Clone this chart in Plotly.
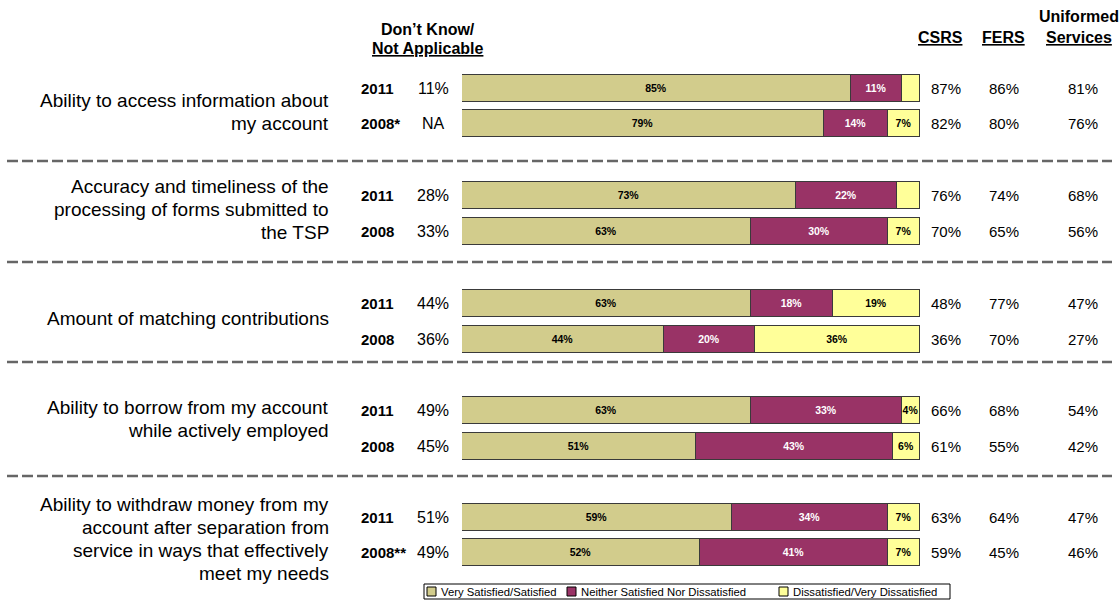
import plotly.graph_objects as go

# ---------------- data ----------------
questions = [
    "Ability to access information about<br>my account",
    "Accuracy and timeliness of the<br>processing of forms submitted to<br>the TSP",
    "Amount of matching contributions",
    "Ability to borrow from my account<br>while actively employed",
    "Ability to withdraw money from my<br>account after separation from<br>service in ways that effectively<br>meet my needs",
]
years = ["2011", "2008*", "2011", "2008", "2011", "2008", "2011", "2008", "2011", "2008**"]
dont_know = ["11%", "NA", "28%", "33%", "44%", "36%", "49%", "45%", "51%", "49%"]

series_names = ["Very Satisfied/Satisfied", "Neither Satisfied Nor Dissatisfied",
                "Dissatisfied/Very Dissatisfied"]
satisfied = [85, 79, 73, 63, 63, 44, 63, 51, 59, 52]
neither = [11, 14, 22, 30, 18, 20, 33, 43, 34, 41]
dissatisfied = [4, 7, 5, 7, 19, 36, 4, 6, 7, 7]
dissatisfied_labeled = [False, True, False, True, True, True, True, True, True, True]

csrs = [87, 82, 76, 70, 48, 36, 66, 61, 63, 59]
fers = [86, 80, 74, 65, 77, 70, 68, 55, 64, 45]
uniformed = [81, 76, 68, 56, 47, 27, 54, 42, 47, 46]

# ---------------- layout constants ----------------
W, H = 1120, 600
FONT = "Liberation Sans, Arial, sans-serif"
BAR_X0, BAR_X1 = 462, 920
bar_y = [88, 123, 195.5, 231, 303, 339, 410, 446, 517, 552]
BAR_H = 27
sep_y = [161, 262, 362, 476]
label_offset = [6, -4, -3, -9, 4]
LINE_H = 23
colors = ["#D2CC8C", "#993366", "#FFFF99"]
text_colors = ["#000000", "#FFFFFF", "#000000"]


def px(x):
    return x / W


fig = go.Figure()
series = [satisfied, neither, dissatisfied]
for k, vals in enumerate(series):
    if k == 2:
        texts = [f"{v}%" if show else "" for v, show in zip(vals, dissatisfied_labeled)]
    else:
        texts = [f"{v}%" for v in vals]
    fig.add_trace(go.Bar(
        y=bar_y, x=vals, orientation="h", width=BAR_H, name=series_names[k],
        marker=dict(color=colors[k], line=dict(color="#3a3a3a", width=1)),
        text=texts, textposition="inside", insidetextanchor="middle", textangle=0,
        textfont=dict(family=FONT, size=10.5, color=text_colors[k], weight="bold"),
        hoverinfo="skip", showlegend=False,
    ))

ann = []
# question labels (one annotation per line for exact line spacing)
for i, q in enumerate(questions):
    lines = q.split("<br>")
    ymid = (bar_y[2 * i] + bar_y[2 * i + 1]) / 2 + label_offset[i]
    top = ymid - (len(lines) - 1) * LINE_H / 2
    for n, ln in enumerate(lines):
        ann.append(dict(x=px(331), y=top + n * LINE_H, xref="paper", yref="y", text=ln,
                        showarrow=False, xanchor="right", yanchor="middle", align="right",
                        font=dict(family=FONT, size=19, color="#000")))
# per-bar columns
for j, yv in enumerate(bar_y):
    ann.append(dict(x=px(359), y=yv, xref="paper", yref="y", text=f"<b>{years[j]}</b>",
                    showarrow=False, xanchor="left", yanchor="middle",
                    font=dict(family=FONT, size=15, color="#000")))
    ann.append(dict(x=px(433), y=yv, xref="paper", yref="y", text=dont_know[j],
                    showarrow=False, xanchor="center", yanchor="middle",
                    font=dict(family=FONT, size=16, color="#000")))
    for cx, col in ((946, csrs), (1004, fers), (1083, uniformed)):
        ann.append(dict(x=px(cx), y=yv, xref="paper", yref="y", text=f"{col[j]}%",
                        showarrow=False, xanchor="center", yanchor="middle",
                        font=dict(family=FONT, size=15, color="#000")))
# headers
hdr = dict(family=FONT, size=16, color="#000")
for (cx, cy, t) in ((428, 29, "<b>Don’t Know/</b>"), (428, 48, "<b><u>Not Applicable</u></b>"),
                    (940, 37, "<b><u>CSRS</u></b>"), (1003, 37, "<b><u>FERS</u></b>"),
                    (1079, 16, "<b>Uniformed</b>"), (1079, 37, "<b><u>Services</u></b>")):
    ann.append(dict(x=px(cx), y=cy, xref="paper", yref="y", text=t, showarrow=False,
                    xanchor="center", yanchor="middle", font=hdr))

shapes = [dict(type="line", xref="paper", yref="y", x0=px(7), x1=px(1112), y0=s, y1=s,
               line=dict(color="#666666", width=2.5, dash="11px,4px")) for s in sep_y]

# legend (drawn as a framed key below the bars)
LEG_X0, LEG_X1, LEG_Y0, LEG_Y1 = 424, 950, 584, 599
shapes.append(dict(type="rect", xref="paper", yref="y", x0=px(LEG_X0), x1=px(LEG_X1),
                   y0=LEG_Y0, y1=LEG_Y1, line=dict(color="#000", width=1), fillcolor="white"))
leg_sq_x = [427, 567, 779]
leg_cy = (LEG_Y0 + LEG_Y1) / 2
for k in range(3):
    shapes.append(dict(type="rect", xref="paper", yref="y", x0=px(leg_sq_x[k]),
                       x1=px(leg_sq_x[k] + 9), y0=leg_cy - 4.5, y1=leg_cy + 4.5,
                       line=dict(color="#000", width=1), fillcolor=colors[k]))
    ann.append(dict(x=px(leg_sq_x[k] + 12), y=leg_cy, xref="paper", yref="y",
                    text=series_names[k], showarrow=False, xanchor="left", yanchor="middle",
                    font=dict(family=FONT, size=11.3, color="#000")))

fig.update_layout(
    width=W, height=H, margin=dict(l=0, r=0, t=0, b=0),
    paper_bgcolor="white", plot_bgcolor="white",
    barmode="stack", bargap=0,
    xaxis=dict(domain=[px(BAR_X0), px(BAR_X1)], range=[0, 100], visible=False, fixedrange=True),
    yaxis=dict(domain=[0, 1], range=[H, 0], visible=False, fixedrange=True),
    uniformtext=dict(minsize=10.5, mode="show"),
    annotations=ann, shapes=shapes,
    showlegend=False,
)

fig.write_html("out.html", config={"displayModeBar": False},
               post_script="document.body.style.margin='0';document.body.style.overflow='hidden';")
